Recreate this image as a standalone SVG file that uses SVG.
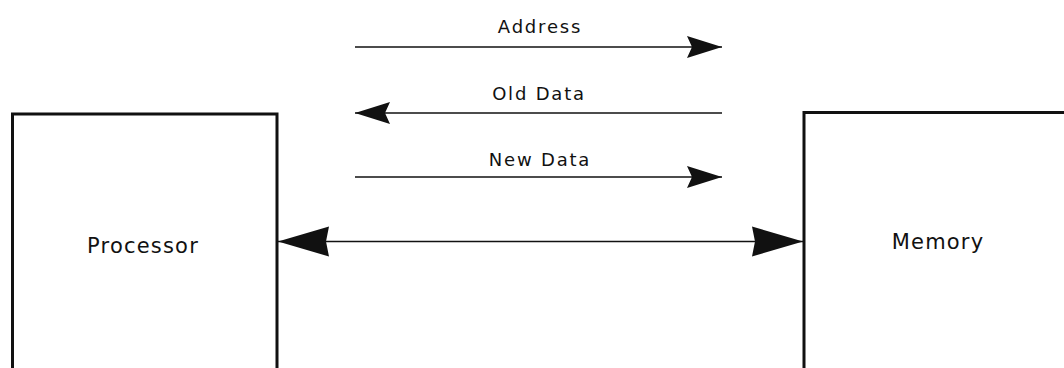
<svg xmlns="http://www.w3.org/2000/svg" width="1064" height="368" viewBox="0 0 1064 368">
<style>
.box{fill:none;stroke:#111;stroke-width:3}
.ln{stroke:#111;stroke-width:1.6;fill:none}
.lbl{font-family:"DejaVu Sans",sans-serif;font-size:18px;letter-spacing:1.8px;fill:#111;text-anchor:middle}
.big{font-family:"DejaVu Sans",sans-serif;font-size:21px;letter-spacing:1.2px;fill:#111;text-anchor:middle}
</style>
<defs>
<marker id="sm" markerUnits="userSpaceOnUse" markerWidth="36" markerHeight="24" refX="35" refY="11" orient="auto-start-reverse" viewBox="0 0 36 22">
<path d="M0,0 L35,11 L0,22 L5,11 Z" fill="#111"/>
</marker>
<marker id="bg" markerUnits="userSpaceOnUse" markerWidth="52" markerHeight="32" refX="51" refY="15" orient="auto-start-reverse" viewBox="0 0 52 30">
<path d="M0,0 L51,15 L0,30 L3,15 Z" fill="#111"/>
</marker>
</defs>
<g id="processor">
<path class="box" d="M12.5,370 V114 H277 V370"/>
<text class="big" x="143" y="253">Processor</text>
</g>
<g id="memory">
<path class="box" d="M804,370 V112.5 H1066"/>
<text class="big" x="938" y="249">Memory</text>
</g>
<g id="connectors">
<line class="ln" x1="355" y1="47" x2="722" y2="47" marker-end="url(#sm)"/>
<text class="lbl" x="540" y="33">Address</text>
<line class="ln" x1="722" y1="113" x2="355" y2="113" marker-end="url(#sm)"/>
<text class="lbl" x="539" y="100">Old Data</text>
<line class="ln" x1="355" y1="177" x2="722" y2="177" marker-end="url(#sm)"/>
<text class="lbl" x="540" y="166">New Data</text>
<line class="ln" x1="278" y1="241.5" x2="803" y2="241.5" stroke-width="2" marker-start="url(#bg)" marker-end="url(#bg)"/>
</g>
</svg>
